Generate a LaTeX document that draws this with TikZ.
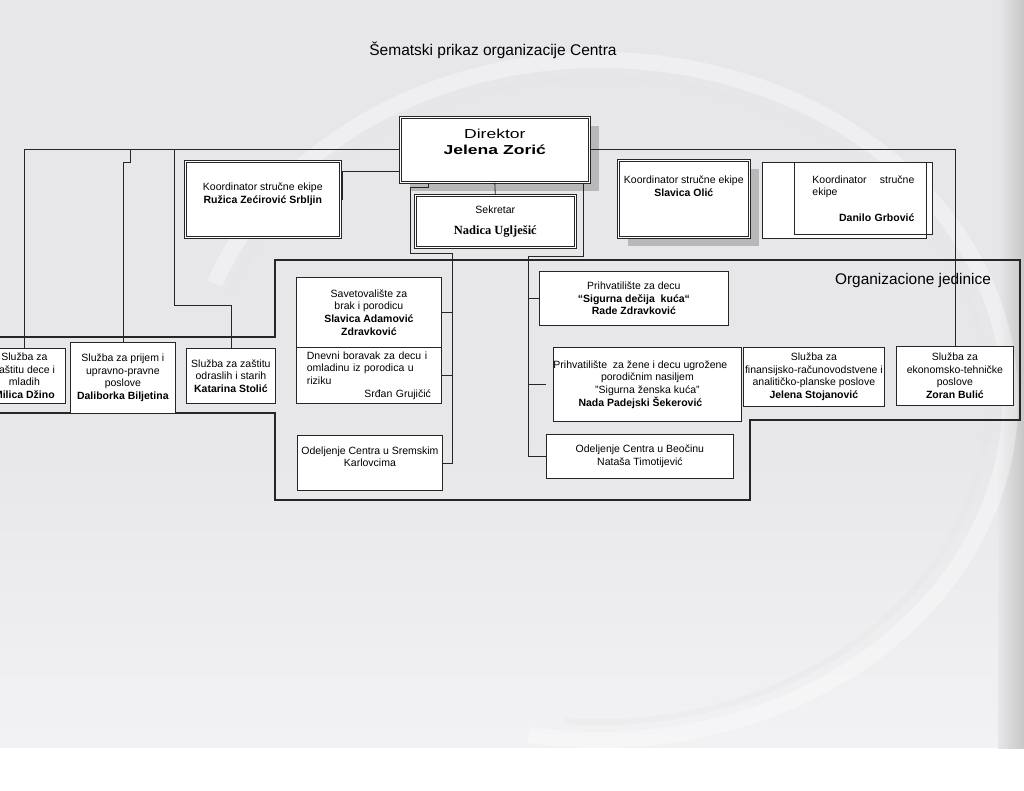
\documentclass[tikz,border=0pt]{standalone}
\usepackage{fontspec}
\setmainfont{Liberation Sans}
\newfontfamily\widesans[FakeStretch=1.35]{Liberation Sans}
\newfontfamily\timesfont{Liberation Serif}
\usetikzlibrary{shadows}
\definecolor{paper}{RGB}{231,231,234}
\definecolor{paperlight}{RGB}{242,242,244}
\definecolor{ink}{RGB}{38,38,40}

\begin{document}
\begin{tikzpicture}[x=1pt, y=-1pt,
    font=\fontsize{10.5}{12.6}\selectfont,
    box/.style={
        draw=ink,
        line width=0.8pt,
        fill=white,
        align=center,
        inner sep=0pt,
        anchor=north west
        },
    dbox/.style={
        box,
        double=white,
        double distance=1.5pt,
        line width=0.6pt
        },
    shadowed/.style={
        drop shadow={shadow xshift=10pt, shadow yshift=-9pt, fill=black!28, opacity=1}
        },
    link/.style={draw=ink, line width=0.8pt},
    frame/.style={draw=ink, line width=1.3pt},
  ]
  \useasboundingbox (0,0) rectangle (1024,791);
  % Background
  \fill[paper] (0,0) rectangle (1024,791);
  \shade[top color=paper, bottom color=paperlight] (0,430) rectangle (1024,748);
  \fill[white] (0,748) rectangle (1024,791);
  \shade[left color=paper, right color=black!22] (998,0) rectangle (1024,748);
  \draw[white, line width=16pt, opacity=0.35] (214.7,283.7) arc[start angle=-160, end angle=100, x radius=410, y radius=340];
  \draw[black!10, line width=6pt, opacity=0.3] (232,290) arc[start angle=-160, end angle=95, x radius=390, y radius=322];

  % Title
  \node[font=\fontsize{15.5}{18}\selectfont] (title) at (493,50) {Šematski prikaz organizacije Centra};

  % Organizacione jedinice
  \draw[frame] (-5,337) -- (275,337) -- (275,260) -- (1020,260) -- (1020,420)
      -- (750,420) -- (750,500) -- (275,500) -- (275,413) -- (-5,413);
  \node[font=\fontsize{15.4}{18}\selectfont] (org) at (913,281) {Organizacione jedinice};

  % Direktor
  \node[dbox, shadowed, minimum width=189, minimum height=65,
      font=\widesans\fontsize{13}{16}\selectfont] (dir) at (400,117)
      {Direktor\\ \textbf{Jelena Zorić}\\ \mbox{}};

  % Sekretar and koordinatori
  \node[dbox, minimum width=160, minimum height=52] (sek) at (415,195)
      {Sekretar\\[8pt] {\timesfont\fontsize{12.5}{14}\selectfont\bfseries Nadica Uglješić}};
  \node[dbox, minimum width=155, minimum height=76] (ruzica) at (185,161)
      {Koordinator stručne ekipe\\ \textbf{Ružica Zećirović Srbljin}\\ \mbox{}};
  \node[dbox, shadowed, minimum width=131, minimum height=77] (olic) at (618,160)
      {Koordinator stručne ekipe\\ \textbf{Slavica Olić}\\ \mbox{}\\ \mbox{}};
  \filldraw[fill=white, draw=ink, line width=0.8pt] (762,162) rectangle (926,238);
  \node[box, minimum width=138, minimum height=72, text width=102, align=left] (grbovic) at (794,162)
      {Koordinator\hfill stručne\\ ekipe\\[13pt] \hspace*{\fill}\textbf{Danilo Grbović}\hspace*{5pt}};
  \draw[ink, line width=0.8pt] (762,162) rectangle (926,238);

  % Sluzbe levo
  \node[box, minimum width=82, minimum height=55] (dzino) at (-17,348)
      {Služba za\\ zaštitu dece i\\ mladih\\ \textbf{Milica Džino}};
  \node[box, minimum width=105, minimum height=71] (prijem) at (70,342)
      {Služba za prijem i\\ upravno-pravne\\ poslove\\ \textbf{Daliborka Biljetina}};
  \node[box, minimum width=89, minimum height=55] (stolic) at (186,348)
      {Služba za zaštitu\\ odraslih i starih\\ \textbf{Katarina Stolić}};

  % Jedinice uz sekretara
  \node[box, minimum width=145, minimum height=70] (savet) at (296,277)
      {Savetovalište za\\ brak i porodicu\\ \textbf{Slavica Adamović}\\ \textbf{Zdravković}};
  \node[box, minimum width=145, minimum height=56, text width=124, align=left] (dnevni) at (296,347)
      {Dnevni boravak za decu i\\ omladinu iz porodica u\\ riziku\\ \hspace*{\fill}Srđan Grujičić\hspace*{\fill}};
  \node[box, minimum width=145, minimum height=55] (sremski) at (297,435)
      {Odeljenje Centra u Sremskim\\ Karlovcima\\ \mbox{}};
  \node[box, minimum width=189, minimum height=54] (decu) at (539,271)
      {Prihvatilište za decu\\ \textbf{“Sigurna dečija\ \ kuća“}\\ \textbf{Rade Zdravković}};
  \node[box, minimum width=188, minimum height=74] (zene) at (553,347)
      {Prihvatilište\ \ za žene i decu ugrožene\hspace*{14pt}\\ porodičnim nasiljem\hspace*{14pt}\\
       "Sigurna ženska kuća"\hspace*{14pt}\\ \textbf{Nada Padejski Šekerović}\hspace*{14pt}};
  \node[box, minimum width=187, minimum height=44] (beocin) at (546,434)
      {Odeljenje Centra u Beočinu\\ Nataša Timotijević};

  % Sluzbe desno
  \node[box, minimum width=141, minimum height=59] (finans) at (743,347)
      {Služba za\\ finansijsko-računovodstvene i\\ analitičko-planske poslove\\ \textbf{Jelena Stojanović}};
  \node[box, minimum width=117, minimum height=59] (bulic) at (896,346)
      {Služba za\\ ekonomsko-tehničke\\ poslove\\ \textbf{Zoran Bulić}};

  % Connectors
  \coordinate (busA) at (130,150);
  \coordinate (busB) at (174,150);
  \draw[link] (dir.west) -| (dzino.north);
  \draw[link] (busA) -- ++(0,12) -| (prijem.north);
  \draw[link] (busB) -- ++(0,155) -| (stolic.north);
  \draw[link] ([yshift=11pt]dir.south west) -- ++(-58,0) |- (ruzica.east);
  \draw[link] (dir.east) -| (bulic.north);
  \draw[link] (dir.south) -- (sek.north);
  \draw[link] ([xshift=28pt]dir.south west) -- ++(0,5) -- ++(-18,0) -- ++(0,66)
      -- ++(42,0) |- (sremski.east);
  \draw[link] (savet.east) -- ++(11,0);
  \draw[link] (dnevni.east) -- ++(11,0);
  \draw[link] ([xshift=-6pt]dir.south east) -- ++(0,74) -- ++(-55,0) |- (beocin.west);
  \draw[link] (decu.west) -- ++(-11,0);
  \draw[link] ([xshift=-7pt]zene.west) -- ++(-18,0);
\end{tikzpicture}
\end{document}
